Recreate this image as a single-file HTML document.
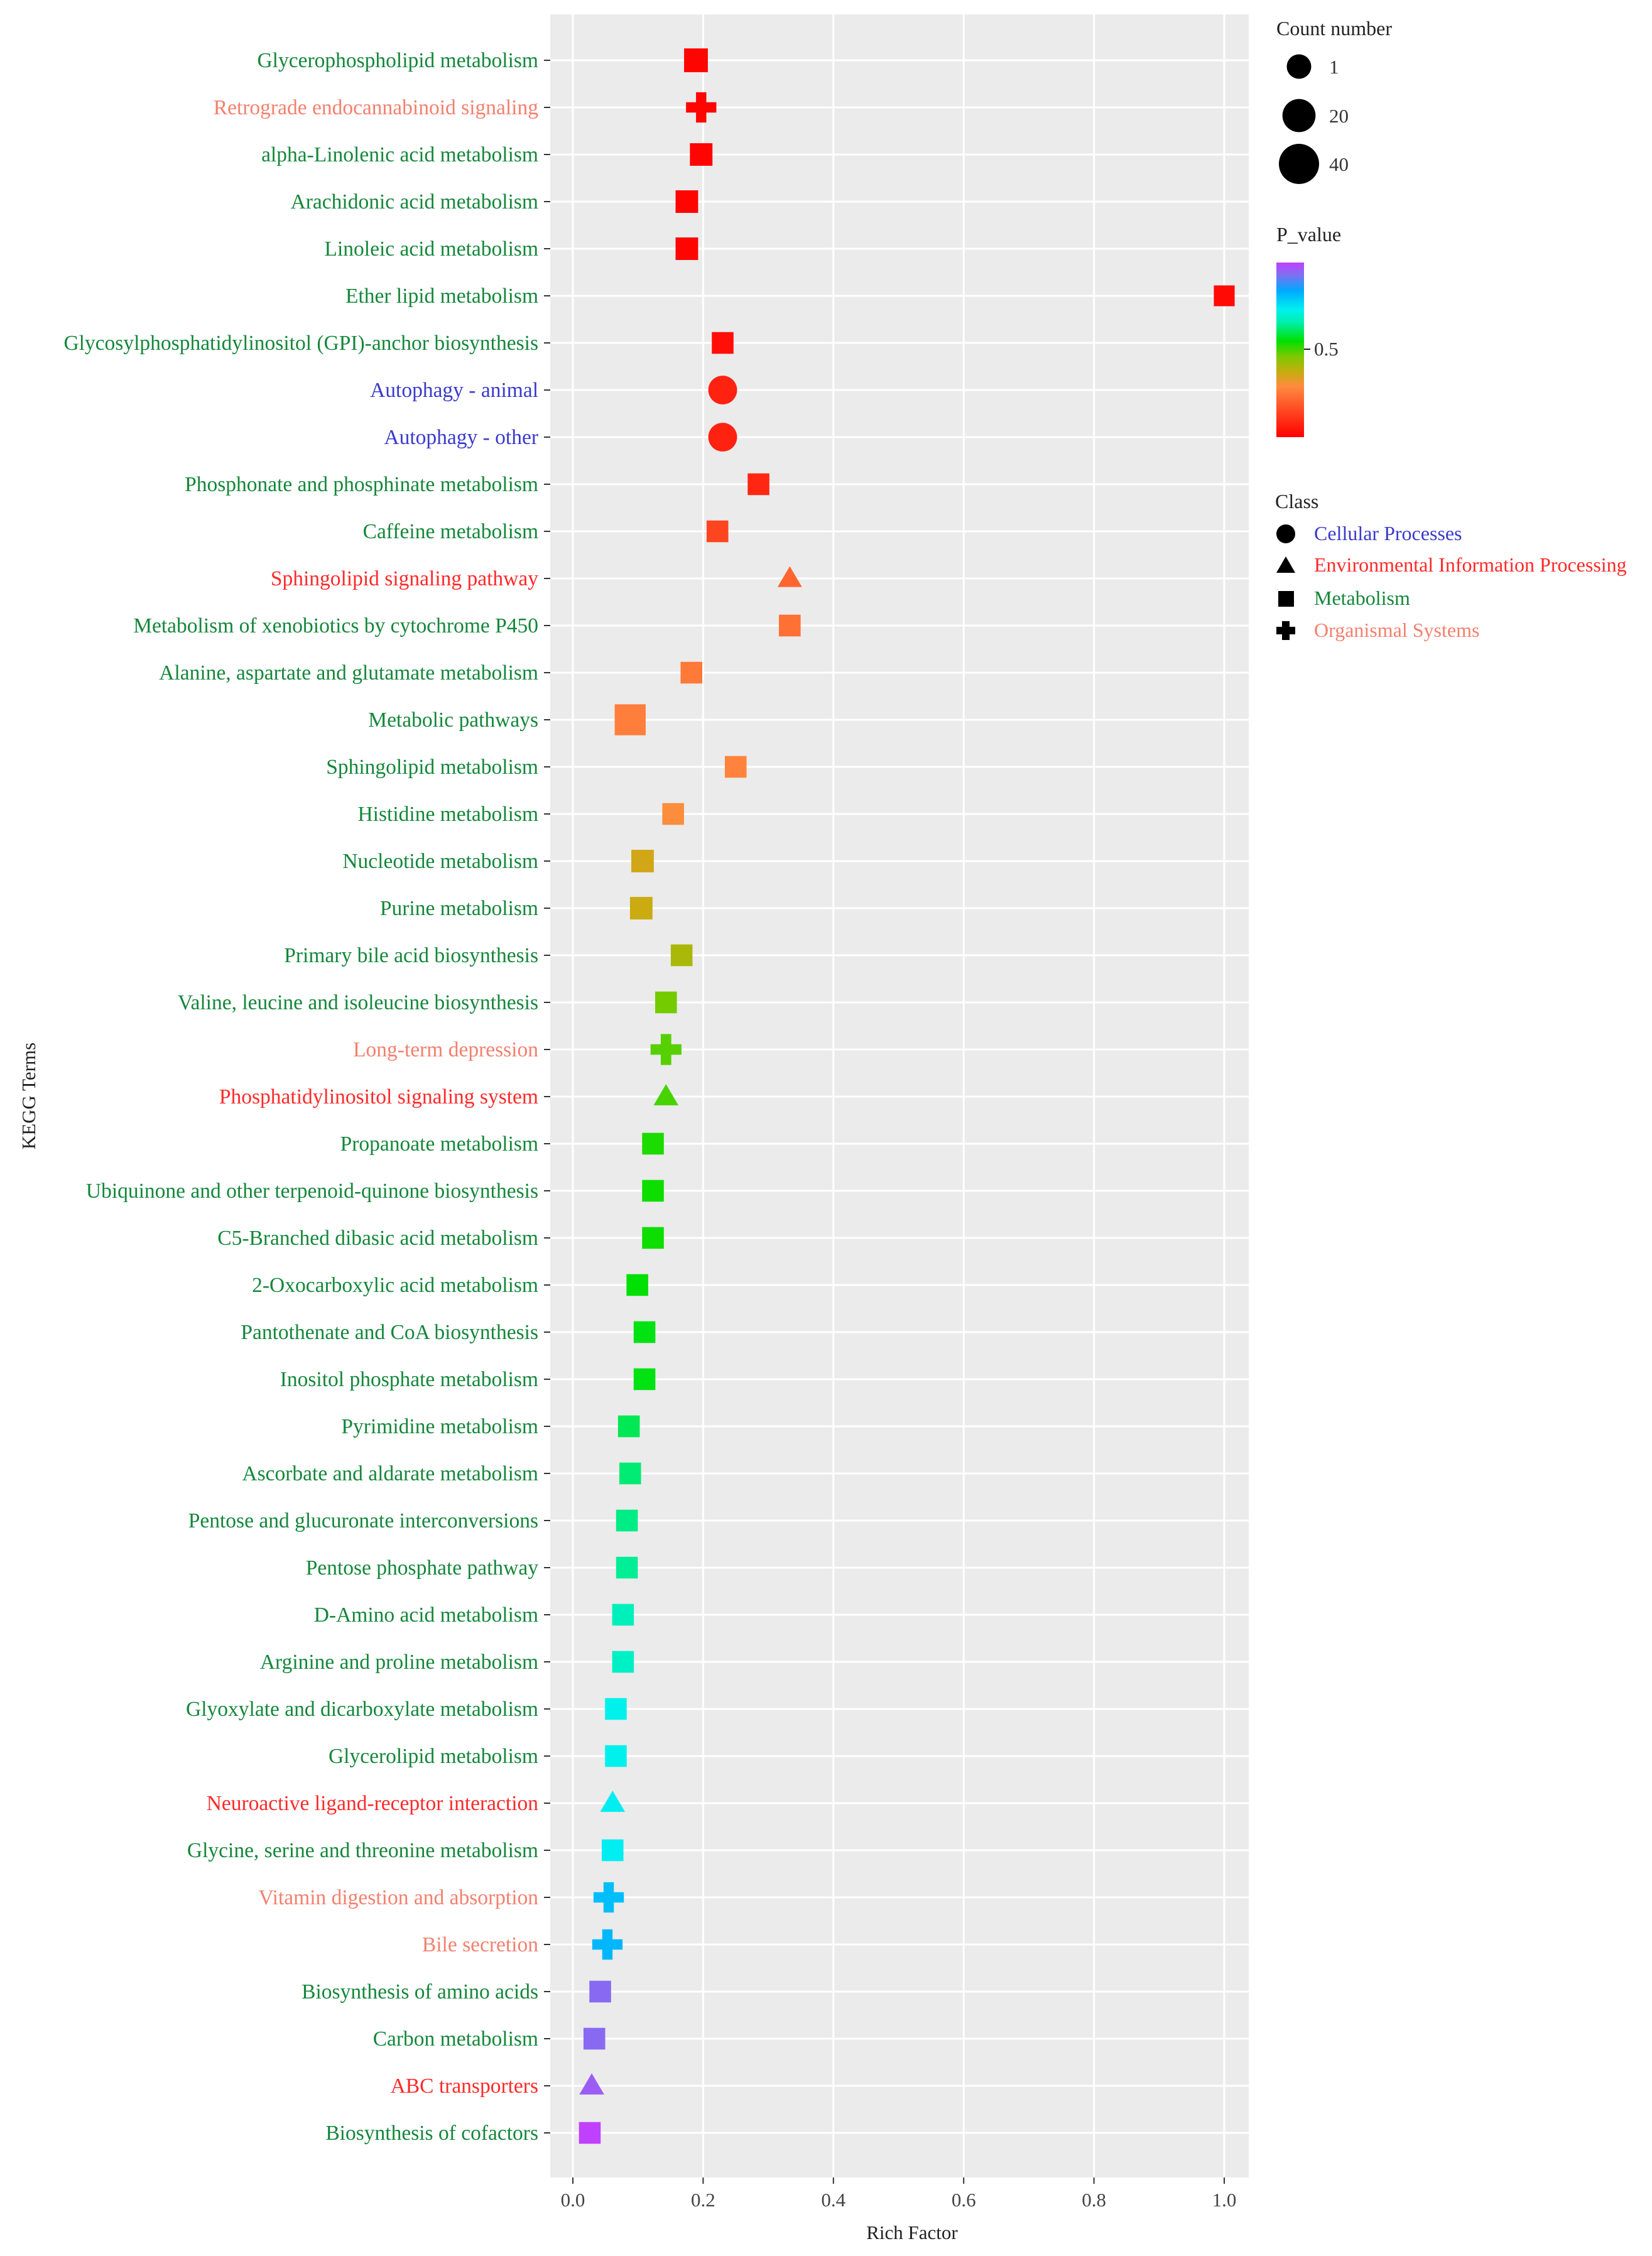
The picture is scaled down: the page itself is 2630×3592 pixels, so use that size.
<!DOCTYPE html>
<html><head><meta charset="utf-8"><title>KEGG enrichment</title>
<style>html,body{margin:0;padding:0;background:#fff;}svg{display:block;font-family:"Liberation Serif","Times New Roman",serif;}</style>
</head><body>
<svg id="chart" width="2630" height="3592" viewBox="0 0 2630 3592" xmlns="http://www.w3.org/2000/svg">
<defs>
<linearGradient id="pgrad" x1="0" y1="1" x2="0" y2="0">
<stop offset="0" stop-color="#ff0000"/><stop offset="0.29" stop-color="#ff8a40"/><stop offset="0.37" stop-color="#c8ac10"/>
<stop offset="0.46" stop-color="#80c800"/><stop offset="0.55" stop-color="#00e000"/><stop offset="0.66" stop-color="#00f0b0"/>
<stop offset="0.73" stop-color="#00f0f0"/><stop offset="0.84" stop-color="#00a8ff"/><stop offset="0.93" stop-color="#8070f0"/>
<stop offset="1" stop-color="#c040ff"/></linearGradient>
</defs>
<rect x="876" y="23" width="1112" height="3444" fill="#ebebeb"/>
<g id="grid"></g><g id="marks"></g><g id="yaxis"></g><g id="xaxis"></g>
<text x="1452" y="3565" font-size="31" text-anchor="middle" fill="#222">Rich Factor</text>
<text transform="translate(56,1745) rotate(-90)" font-size="31" text-anchor="middle" fill="#222">KEGG Terms</text>
<g>
<text x="2032" y="56" font-size="32" fill="#222">Count number</text>
<g id="sizeleg"></g>
</g>
<g>
<text x="2032" y="384" font-size="32" fill="#222">P_value</text>
<rect x="2032" y="418" width="44" height="278" fill="url(#pgrad)"/>
<line x1="2076" y1="556" x2="2086" y2="556" stroke="#222" stroke-width="2"/>
<text x="2092" y="566" font-size="31" fill="#333">0.5</text>
</g>
<g>
<text x="2030" y="809" font-size="32" fill="#222">Class</text>
<circle cx="2047" cy="850" r="15" fill="#000"/>
<text x="2092" y="860" font-size="32" fill="#3a3acc">Cellular Processes</text>
<polygon points="2047,886 2062,912 2032,912" fill="#000"/>
<text x="2092" y="910" font-size="32" fill="#ff2a2a">Environmental Information Processing</text>
<rect x="2035" y="941" width="25" height="25" fill="#000"/>
<text x="2092" y="963" font-size="32" fill="#14873a">Metabolism</text>
<path d="M2041 989h12v9h9v12h-9v9h-12v-9h-9v-12h9z" fill="#000"/>
<text x="2092" y="1014" font-size="32" fill="#f4806e">Organismal Systems</text>
</g>
</svg>
<script>
const terms=["Glycerophospholipid metabolism","Retrograde endocannabinoid signaling","alpha-Linolenic acid metabolism","Arachidonic acid metabolism","Linoleic acid metabolism","Ether lipid metabolism","Glycosylphosphatidylinositol (GPI)-anchor biosynthesis","Autophagy - animal","Autophagy - other","Phosphonate and phosphinate metabolism","Caffeine metabolism","Sphingolipid signaling pathway","Metabolism of xenobiotics by cytochrome P450","Alanine, aspartate and glutamate metabolism","Metabolic pathways","Sphingolipid metabolism","Histidine metabolism","Nucleotide metabolism","Purine metabolism","Primary bile acid biosynthesis","Valine, leucine and isoleucine biosynthesis","Long-term depression","Phosphatidylinositol signaling system","Propanoate metabolism","Ubiquinone and other terpenoid-quinone biosynthesis","C5-Branched dibasic acid metabolism","2-Oxocarboxylic acid metabolism","Pantothenate and CoA biosynthesis","Inositol phosphate metabolism","Pyrimidine metabolism","Ascorbate and aldarate metabolism","Pentose and glucuronate interconversions","Pentose phosphate pathway","D-Amino acid metabolism","Arginine and proline metabolism","Glyoxylate and dicarboxylate metabolism","Glycerolipid metabolism","Neuroactive ligand-receptor interaction","Glycine, serine and threonine metabolism","Vitamin digestion and absorption","Bile secretion","Biosynthesis of amino acids","Carbon metabolism","ABC transporters","Biosynthesis of cofactors"];
const classes=["M","O","M","M","M","M","M","C","C","M","M","E","M","M","M","M","M","M","M","M","M","O","E","M","M","M","M","M","M","M","M","M","M","M","M","M","M","E","M","O","O","M","M","E","M"];
const richFactor=[0.189,0.197,0.197,0.175,0.175,1.0,0.23,0.23,0.23,0.285,0.222,0.333,0.333,0.182,0.088,0.25,0.154,0.107,0.105,0.167,0.143,0.143,0.143,0.123,0.123,0.123,0.099,0.11,0.11,0.086,0.088,0.083,0.083,0.077,0.077,0.066,0.066,0.061,0.061,0.055,0.053,0.042,0.033,0.029,0.026];
const pValue=[0.02,0.02,0.02,0.02,0.02,0.03,0.04,0.08,0.08,0.09,0.15,0.22,0.24,0.26,0.27,0.28,0.3,0.36,0.37,0.41,0.47,0.49,0.5,0.53,0.54,0.54,0.55,0.56,0.56,0.6,0.62,0.63,0.64,0.67,0.68,0.72,0.72,0.73,0.73,0.8,0.81,0.93,0.93,0.95,0.99];
const counts=[8,3,5,5,5,1,3,1,1,3,3,2,3,3,29,3,3,5,5,3,3,4,3,3,3,3,3,3,3,3,3,3,3,3,3,3,3,3,3,3,3,3,3,3,3];
const xTicks=[0,0.2,0.4,0.6,0.8,1.0];
const xTickLabels=["0.0","0.2","0.4","0.6","0.8","1.0"];
const sizeBreaks=[1,20,40];

const NS="http://www.w3.org/2000/svg";
const X0=912,XU=1037,Y0=96,DY=75;
const PMIN=0.01,PMAX=0.99;
function xs(v){return X0+v*XU;}
function ys(i){return Y0+i*DY;}
function diam(c){return Math.sqrt(1455+66*c);}
const stops=[[0,[255,0,0]],[0.29,[255,138,64]],[0.37,[200,172,16]],[0.46,[128,200,0]],[0.55,[0,224,0]],[0.66,[0,240,176]],[0.73,[0,240,240]],[0.84,[0,168,255]],[0.93,[128,112,240]],[1,[192,64,255]]];
function colorOf(p){let f=(p-PMIN)/(PMAX-PMIN);f=Math.max(0,Math.min(1,f));
 for(let k=1;k<stops.length;k++){if(f<=stops[k][0]){const a=stops[k-1],b=stops[k];const t=(f-a[0])/(b[0]-a[0]);
  const c=a[1].map((v,j)=>Math.round(v+(b[1][j]-v)*t));return `rgb(${c[0]},${c[1]},${c[2]})`;}}return "rgb(192,64,255)";}
const labelColor={M:"#14873a",O:"#f4806e",C:"#3a3acc",E:"#ff2a2a"};
function mk(tag,attrs,parent){const e=document.createElementNS(NS,tag);for(const k in attrs)e.setAttribute(k,attrs[k]);parent.appendChild(e);return e;}
const grid=document.getElementById('grid'),marks=document.getElementById('marks'),yax=document.getElementById('yaxis'),xax=document.getElementById('xaxis');
xTicks.forEach((t,i)=>{
 const g=mk('line',{x1:xs(t),x2:xs(t),y1:23,y2:3467,stroke:'#fff','stroke-width':3},grid);
 
 
 const tk=mk('line',{x1:xs(t),x2:xs(t),y1:3467,y2:3477,stroke:'#333','stroke-width':2},xax);
 
 
 const tl=mk('text',{x:xs(t),y:3513,'font-size':31,'text-anchor':'middle',fill:'#444'},xax);
 tl.textContent=xTickLabels[i];
 
 
});
terms.forEach((name,i)=>{
 const y=ys(i);
 const gl=mk('line',{x1:876,x2:1988,y1:y,y2:y,stroke:'#fff','stroke-width':3},grid);
 
 
 const tk=mk('line',{x1:866,x2:876,y1:y,y2:y,stroke:'#333','stroke-width':2},yax);
 
 
 const tl=mk('text',{x:857,y:y+11,'font-size':33.5,'text-anchor':'end',fill:labelColor[classes[i]]},yax);
 tl.textContent=name;
 
 
 const cx=xs(richFactor[i]),d=diam(counts[i])*1.25,col=colorOf(pValue[i]);let el;
 if(classes[i]==='M'){const s=d*0.68;el=mk('rect',{x:cx-s/2,y:y-s/2,width:s,height:s,fill:col},marks);}
 else if(classes[i]==='C'){el=mk('circle',{cx:cx,cy:y,r:d*0.47,fill:col},marks);}
 else if(classes[i]==='E'){const s=d*0.78;el=mk('polygon',{points:`${cx},${y-s*0.5} ${cx+s/2},${y+s*0.35} ${cx-s/2},${y+s*0.35}`,fill:col},marks);}
 else{const L=d*0.95,w=L*0.34;el=mk('path',{d:`M${cx-w/2} ${y-L/2}h${w}v${(L-w)/2}h${(L-w)/2}v${w}h${-(L-w)/2}v${(L-w)/2}h${-w}v${-(L-w)/2}h${-(L-w)/2}v${-w}h${(L-w)/2}z`,fill:col},marks);}
 
 
});
const sl=document.getElementById('sizeleg');const legY=[106,184,261];
sizeBreaks.forEach((c,i)=>{
 const ci=mk('circle',{cx:2068,cy:legY[i],r:diam(c)/2,fill:'#000'},sl);
 
 
 const t=mk('text',{x:2116,y:legY[i]+11,'font-size':31,fill:'#333'},sl);
 t.textContent=String(c);
 
 
});
</script>
</body></html>
